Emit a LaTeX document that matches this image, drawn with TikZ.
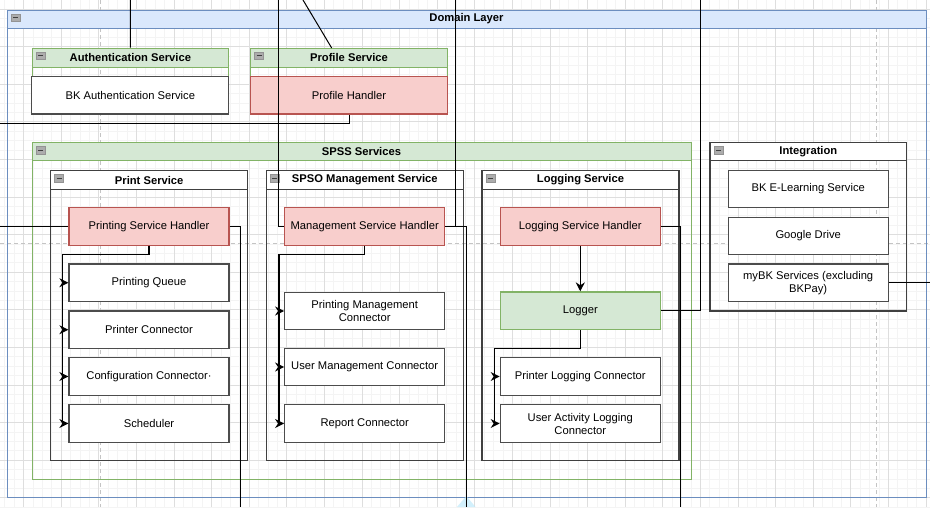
\documentclass[tikz,border=0pt]{standalone}
\usepackage{fontspec}
\setmainfont{Liberation Sans}
\usetikzlibrary{arrows.meta,fit}
\definecolor{bluebd}{HTML}{6C8EBF}
\definecolor{bluefill}{HTML}{DAE8FC}
\definecolor{greenbd}{HTML}{82B366}
\definecolor{greenfill}{HTML}{D5E8D4}
\definecolor{redbd}{HTML}{B85450}
\definecolor{redfill}{HTML}{F8CECC}
\definecolor{gridmin}{HTML}{F4F4F4}
\definecolor{gridmaj}{HTML}{DEDEDE}
\definecolor{pagebrk}{HTML}{C4C4C4}
\newcommand\lab{\fontsize{11.2}{13}\selectfont}
\newcommand\collapseicon[2]{%
  \fill[gray!65, draw=gray!85, line width=0.6pt] (#1+4,#2+4) rectangle ++(9,7.5);
  \draw[black!75, line width=1pt] (#1+6,#2+7.75) -- ++(5,0);}
\newcommand\lane[9]{%
  \fill[#9] (#2,#3) rectangle (#4,#6);
  \node[fit={(#2,#3) (#4,#5)}, inner sep=0pt, #8] (#1) {};
  \draw[#8] (#2,#6) -- (#4,#6);
  \node[lanetitle] at ({(#2+#4)/2},{(#3+#6)/2}) {#7};
  \collapseicon{#2}{#3}}
\begin{document}
\begin{tikzpicture}[x=1pt,y=-1pt,
  lanetitle/.style={font=\lab\bfseries, inner sep=0pt},
  greenlane/.style={draw=greenbd, line width=1pt},
  bluelane/.style={draw=bluebd, line width=1pt},
  greylane/.style={draw=black!75, line width=1.2pt},
  wbox/.style={draw=black!70, line width=1.3pt, fill=white, minimum width=160pt,
    minimum height=37.6pt, inner sep=2pt, align=center, font=\lab},
  rbox/.style={wbox, draw=redbd, fill=redfill},
  gbox/.style={wbox, draw=greenbd, fill=greenfill},
  conn/.style={draw=black, line width=1pt},
  arr/.style={draw=black, line width=1.2pt, -{Stealth[length=9pt, width=9pt, inset=3pt]}},
  pageline/.style={draw=pagebrk, line width=1pt, dash pattern=on 4pt off 3pt}]
\useasboundingbox (0,0) rectangle (930,507);
\fill[white] (0,0) rectangle (930,507);
% grid
\foreach \i in {-3,...,97} \draw[gridmin, line width=0.7pt] ({23.5+9.4*\i},0) -- ++(0,507);
\foreach \j in {-1,...,54} \draw[gridmin, line width=0.7pt] (0,{9+9.4*\j}) -- ++(930,0);
\foreach \i in {-1,...,24} \draw[gridmaj, line width=0.8pt] ({23.5+37.6*\i},0) -- ++(0,507);
\foreach \j in {0,...,13} \draw[gridmaj, line width=0.8pt] (0,{9+37.6*\j}) -- ++(930,0);
% page break lines
\draw[pageline] (100,0) -- (100,507);
\draw[pageline] (876,0) -- (876,507);
\draw[pageline] (0,243.7) -- (930,243.7);

% containers
\lane{dom}{7}{10}{926}{497}{28}{Domain Layer}{bluelane}{fill=bluefill}
\lane{auth}{32}{48}{228.7}{76.3}{67}{Authentication Service}{greenlane}{fill=greenfill}
\lane{prof}{250.7}{48}{447.3}{76.3}{67}{Profile Service}{greenlane}{fill=greenfill}
\lane{spss}{32}{142.7}{691}{479.3}{160.7}{SPSS Services}{greenlane}{fill=greenfill}
\lane{prs}{50.7}{170.7}{247.7}{460.7}{189.3}{Print Service}{greylane}{fill=white}
\lane{spso}{266.3}{170.7}{463.3}{460.7}{189.3}{SPSO Management Service}{greylane}{fill=white}
\lane{logs}{482}{170.7}{679}{460.7}{189.3}{Logging Service}{greylane}{fill=white}
\lane{integ}{710}{142.3}{906.7}{311}{160.7}{Integration}{greylane}{fill=white}

% boxes
\node[wbox, minimum width=197pt] (bkauth) at (130.3,95.2) {BK Authentication Service};
\node[rbox, minimum width=196.6pt] (ph) at (349,95.2) {Profile Handler};

\node[rbox] (psh) at (149,226.5) {Printing Service Handler};
\node[wbox] (pq) at (149,282.7) {Printing Queue};
\node[wbox] (pc) at (149,329.7) {Printer Connector};
\node[wbox] (cc) at (149,376.5) {Configuration Connector·};
\node[wbox] (sch) at (149,423.5) {Scheduler};

\node[rbox] (msh) at (364.7,226.5) {Management Service Handler};
\node[wbox] (pmc) at (364.7,311) {Printing Management\\Connector};
\node[wbox] (umc) at (364.7,367) {User Management Connector};
\node[wbox] (rc) at (364.7,423.5) {Report Connector};

\node[rbox] (lsh) at (580.3,226.5) {Logging Service Handler};
\node[gbox] (logger) at (580.3,310.8) {Logger};
\node[wbox] (plc) at (580.3,376.5) {Printer Logging Connector};
\node[wbox] (ualc) at (580.3,423.5) {User Activity Logging\\Connector};

\node[wbox] (bke) at (808.2,189) {BK E-Learning Service};
\node[wbox] (gd) at (808.2,236) {Google Drive};
\node[wbox] (mybk) at (808.2,282.7) {myBK Services (excluding\\BKPay)};

% free ends
\coordinate (t1) at (130.3,0);
\coordinate (t2) at (303,0);
\coordinate (t2e) at (331.7,48);
\coordinate (t3) at (278.3,0);
\coordinate (t4) at (455.7,0);
\coordinate (t5) at (700,0);
\coordinate (l1) at (0,123);
\coordinate (l2) at (0,226.5);
\coordinate (b1) at (240.7,507);
\coordinate (b2) at (466.3,507);
\coordinate (b3) at (680.7,507);
\coordinate (r1) at (930,282.7);
\coordinate (pj) at (62.7,254.7);
\coordinate (mj) at (279,254.7);
\coordinate (lj) at (494.3,348.3);

% hover marker
\fill[cyan!25, opacity=0.7] (466.3,496) -- (475.5,507) -- (457,507) -- cycle;

% connectors
\draw[conn] (t1) -- (auth.north);
\draw[conn] (t2) -- (t2e);
\draw[conn] (t3) |- (msh.west);
\draw[conn] (ph.south) |- (l1);
\draw[conn] (t4) |- (msh.east);
\draw[conn] (msh.east) -| (b2);
\draw[conn] (t5) |- (logger.east);
\draw[conn] (l2) -- (psh.west);
\draw[conn] (psh.east) -| (b1);
\draw[conn] (lsh.east) -| (b3);
\draw[conn] (mybk.east) -- (r1);

\foreach \c in {pq,pc,cc,sch} \draw[arr] (psh.south) |- (pj) |- (\c.west);
\foreach \c in {pmc,umc,rc} \draw[arr] (msh.south) |- (mj) |- (\c.west);
\draw[arr] (lsh.south) -- (logger.north);
\foreach \c in {plc,ualc} \draw[arr] (logger.south) |- (lj) |- (\c.west);
\end{tikzpicture}
\end{document}
